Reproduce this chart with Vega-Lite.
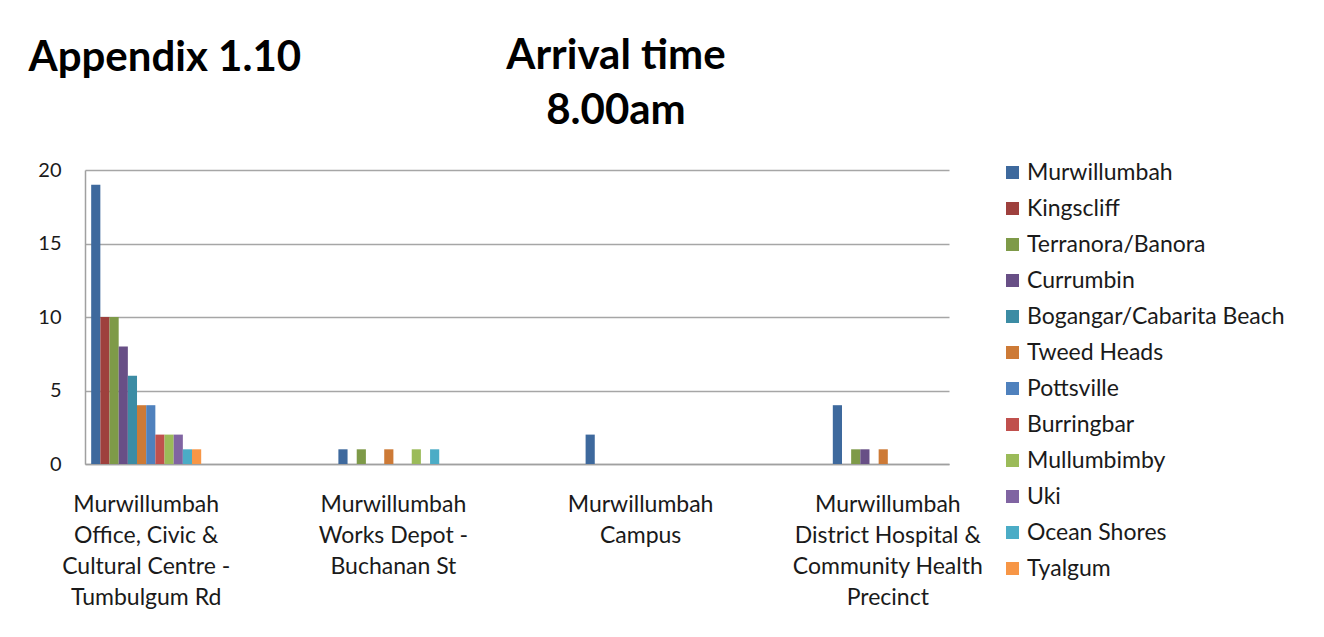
{
  "$schema": "https://vega.github.io/schema/vega-lite/v6.json",
  "width": 864,
  "height": 294,
  "autosize": "none",
  "padding": {"left": 85, "top": 170, "right": 375, "bottom": 173},
  "background": "white",
  "title": {
    "text": ["Arrival time", "8.00am"],
    "anchor": "middle",
    "dx": 99,
    "offset": -139,
    "fontSize": 42,
    "fontWeight": "bold",
    "font": "Lato",
    "color": "#000000",
    "lineHeight": 55,
    "baseline": "bottom"
  },
  "data": {
    "values": [
      {"site": "Murwillumbah Office, Civic & Cultural Centre - Tumbulgum Rd", "origin": "Murwillumbah", "count": 19},
      {"site": "Murwillumbah Office, Civic & Cultural Centre - Tumbulgum Rd", "origin": "Kingscliff", "count": 10},
      {"site": "Murwillumbah Office, Civic & Cultural Centre - Tumbulgum Rd", "origin": "Terranora/Banora", "count": 10},
      {"site": "Murwillumbah Office, Civic & Cultural Centre - Tumbulgum Rd", "origin": "Currumbin", "count": 8},
      {"site": "Murwillumbah Office, Civic & Cultural Centre - Tumbulgum Rd", "origin": "Bogangar/Cabarita Beach", "count": 6},
      {"site": "Murwillumbah Office, Civic & Cultural Centre - Tumbulgum Rd", "origin": "Tweed Heads", "count": 4},
      {"site": "Murwillumbah Office, Civic & Cultural Centre - Tumbulgum Rd", "origin": "Pottsville", "count": 4},
      {"site": "Murwillumbah Office, Civic & Cultural Centre - Tumbulgum Rd", "origin": "Burringbar", "count": 2},
      {"site": "Murwillumbah Office, Civic & Cultural Centre - Tumbulgum Rd", "origin": "Mullumbimby", "count": 2},
      {"site": "Murwillumbah Office, Civic & Cultural Centre - Tumbulgum Rd", "origin": "Uki", "count": 2},
      {"site": "Murwillumbah Office, Civic & Cultural Centre - Tumbulgum Rd", "origin": "Ocean Shores", "count": 1},
      {"site": "Murwillumbah Office, Civic & Cultural Centre - Tumbulgum Rd", "origin": "Tyalgum", "count": 1},
      {"site": "Murwillumbah Works Depot - Buchanan St", "origin": "Murwillumbah", "count": 1},
      {"site": "Murwillumbah Works Depot - Buchanan St", "origin": "Terranora/Banora", "count": 1},
      {"site": "Murwillumbah Works Depot - Buchanan St", "origin": "Tweed Heads", "count": 1},
      {"site": "Murwillumbah Works Depot - Buchanan St", "origin": "Mullumbimby", "count": 1},
      {"site": "Murwillumbah Works Depot - Buchanan St", "origin": "Ocean Shores", "count": 1},
      {"site": "Murwillumbah Campus", "origin": "Murwillumbah", "count": 2},
      {"site": "Murwillumbah District Hospital & Community Health Precinct", "origin": "Murwillumbah", "count": 4},
      {"site": "Murwillumbah District Hospital & Community Health Precinct", "origin": "Terranora/Banora", "count": 1},
      {"site": "Murwillumbah District Hospital & Community Health Precinct", "origin": "Currumbin", "count": 1},
      {"site": "Murwillumbah District Hospital & Community Health Precinct", "origin": "Tweed Heads", "count": 1}
    ]
  },
  "mark": {"type": "bar"},
  "encoding": {
    "x": {
      "field": "site",
      "type": "nominal",
      "sort": null,
      "scale": {
        "domain": [
          "Murwillumbah Office, Civic & Cultural Centre - Tumbulgum Rd",
          "Murwillumbah Works Depot - Buchanan St",
          "Murwillumbah Campus",
          "Murwillumbah District Hospital & Community Health Precinct"
        ],
        "paddingInner": 0.555,
        "paddingOuter": 0.025
      },
      "axis": {
        "title": null,
        "labelAngle": 0,
        "ticks": false,
        "grid": false,
        "domainColor": "#a0a0a0",
        "domainWidth": 1.5,
        "labelFont": "Lato",
        "labelFontSize": 23,
        "labelColor": "#1a1a1a",
        "labelLineHeight": 31,
        "labelPadding": 29,
        "labelLimit": 300,
        "labelBaseline": "top",
        "labelExpr": "datum.label == 'Murwillumbah Office, Civic & Cultural Centre - Tumbulgum Rd' ? ['Murwillumbah', 'Office, Civic &', 'Cultural Centre -', 'Tumbulgum Rd'] : datum.label == 'Murwillumbah Works Depot - Buchanan St' ? ['Murwillumbah', 'Works Depot -', 'Buchanan St'] : datum.label == 'Murwillumbah Campus' ? ['Murwillumbah', 'Campus'] : ['Murwillumbah', 'District Hospital &', 'Community Health', 'Precinct']"
      }
    },
    "xOffset": {
      "field": "origin",
      "type": "nominal",
      "scale": {
        "domain": ["Murwillumbah", "Kingscliff", "Terranora/Banora", "Currumbin", "Bogangar/Cabarita Beach", "Tweed Heads", "Pottsville", "Burringbar", "Mullumbimby", "Uki", "Ocean Shores", "Tyalgum"],
        "paddingInner": 0,
        "paddingOuter": 0
      }
    },
    "y": {
      "field": "count",
      "type": "quantitative",
      "scale": {"domain": [0, 20]},
      "axis": {
        "values": [0, 5, 10, 15, 20],
        "ticks": false,
        "grid": true,
        "gridColor": "#a6a6a6",
        "gridWidth": 1.5,
        "domainColor": "#a0a0a0",
        "domainWidth": 1.5,
        "labelFont": "Lato",
        "labelFontSize": 20,
        "labelColor": "#1a1a1a",
        "labelPadding": 24,
        "title": "Appendix 1.10",
        "titleAngle": 0,
        "titleX": -57,
        "titleY": -100,
        "titleAlign": "left",
        "titleBaseline": "alphabetic",
        "titleFont": "Lato",
        "titleFontSize": 42,
        "titleFontWeight": "bold",
        "titleColor": "#000000"
      }
    },
    "color": {
      "field": "origin",
      "type": "nominal",
      "scale": {
        "domain": ["Murwillumbah", "Kingscliff", "Terranora/Banora", "Currumbin", "Bogangar/Cabarita Beach", "Tweed Heads", "Pottsville", "Burringbar", "Mullumbimby", "Uki", "Ocean Shores", "Tyalgum"],
        "range": ["#3e699d", "#9e403d", "#7e9a48", "#684f86", "#3c8ca4", "#cd7a36", "#4f81bd", "#c0504d", "#9bbb59", "#8064a2", "#4bacc6", "#f79646"]
      },
      "legend": {
        "title": null,
        "orient": "none",
        "legendX": 916,
        "legendY": -9,
        "padding": 0,
        "symbolType": "square",
        "symbolSize": 169,
        "symbolStrokeWidth": 0,
        "symbolOpacity": 1,
        "labelFont": "Lato",
        "labelFontSize": 23,
        "labelColor": "#1a1a1a",
        "labelOffset": 3,
        "labelLimit": 400,
        "rowPadding": 12
      }
    }
  },
  "config": {
    "view": {"stroke": null},
    "font": "Lato"
  }
}
